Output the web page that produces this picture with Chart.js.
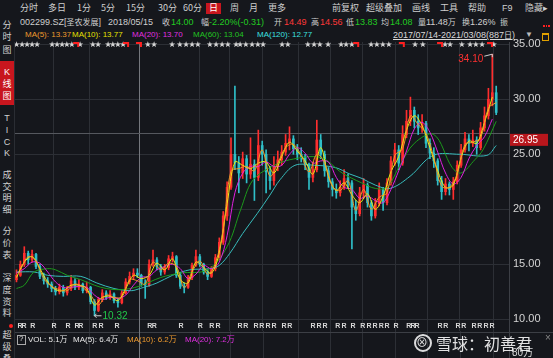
<!DOCTYPE html>
<html><head><meta charset="utf-8">
<script src="https://cdn.jsdelivr.net/npm/chart.js@4.4.1/dist/chart.umd.min.js"></script>
<style>
html,body{margin:0;padding:0;}
body{background:#15171c;width:553px;height:358px;overflow:hidden;position:relative;font-family:"Liberation Sans","Noto Sans CJK SC",sans-serif;color:#cfcfcf;}
.t{position:absolute;white-space:nowrap;font-size:9px;line-height:12px;}
.s{font-size:8px;}
.c{font-family:"Noto Sans CJK SC",sans-serif;}
.k{font-family:"Noto Sans CJK SC",sans-serif;font-size:8px;}
.side{position:absolute;left:0;width:14px;text-align:center;font-size:9px;line-height:12px;font-family:"Noto Sans CJK SC",sans-serif;color:#d0d0d0;}
#wrap{position:absolute;left:15px;top:30px;width:538px;height:328px;}
.g{color:#22cc22}.r{color:#ff3838}
</style></head><body>
<!-- toolbar -->
<div class="t c" style="left:20px;top:2px">分时</div>
<div class="t c" style="left:48px;top:2px">多日</div>
<div class="t c" style="left:77px;top:2px">1分</div>
<div class="t c" style="left:101px;top:2px">5分</div>
<div class="t c" style="left:126px;top:2px">15分</div>
<div class="t c" style="left:158px;top:2px">30分</div>
<div class="t c" style="left:183px;top:2px">60分</div>
<div style="position:absolute;left:206px;top:3px;width:15px;height:11px;background:#c8161e"></div>
<div class="t c" style="left:209px;top:2px;color:#fff">日</div>
<div class="t c" style="left:230px;top:2px">周</div>
<div class="t c" style="left:249px;top:2px">月</div>
<div class="t c" style="left:268px;top:2px">更多</div>
<div class="t c" style="left:332px;top:2px">前复权</div>
<div class="t c" style="left:366px;top:2px">超级叠加</div>
<div class="t c" style="left:412px;top:2px">画线</div>
<div class="t c" style="left:440px;top:2px">工具</div>
<div class="t c" style="left:468px;top:2px">帮助</div>
<div class="t" style="left:502px;top:2px">F9</div>
<div class="t c" style="left:525px;top:2px">隐藏▸</div>
<!-- row 2 -->
<div class="t" style="left:20px;top:16px">002299.SZ[<span class="k">圣农发展</span>]</div>
<div class="t" style="left:108px;top:16px">2018/05/15</div>
<div class="t k" style="left:162px;top:16px">收</div>
<div class="t g" style="left:171px;top:16px">14.00</div>
<div class="t k" style="left:201px;top:16px">幅</div>
<div class="t g" style="left:209px;top:16px">-2.20%(-0.31)</div>
<div class="t k" style="left:274px;top:16px">开</div>
<div class="t r" style="left:284px;top:16px">14.49</div>
<div class="t k" style="left:311px;top:16px">高</div>
<div class="t r" style="left:320px;top:16px">14.56</div>
<div class="t k" style="left:346px;top:16px">低</div>
<div class="t g" style="left:355px;top:16px">13.83</div>
<div class="t k" style="left:381px;top:16px">均</div>
<div class="t g" style="left:390px;top:16px">14.08</div>
<div class="t" style="left:418px;top:16px"><span class="k">量</span>11.48<span class="k">万</span></div>
<div class="t" style="left:462px;top:16px"><span class="k">换</span>1.26%</div>
<div class="t k" style="left:500px;top:16px">振</div>
<div style="position:absolute;left:543px;top:25px;width:1.5px;height:1.5px;background:#ff2020"></div>
<div style="position:absolute;left:545.5px;top:25px;width:1.5px;height:1.5px;background:#ff2020"></div>
<div style="position:absolute;left:548px;top:25px;width:1.5px;height:1.5px;background:#ff2020"></div>
<!-- row 3 -->
<div class="t s" style="left:25px;top:29px;color:#ee9a2e">MA(5): 13.37</div>
<div class="t s" style="left:72px;top:29px;color:#e6e000">MA(10): 13.77</div>
<div class="t s" style="left:132px;top:29px;color:#e030e0">MA(20): 13.70</div>
<div class="t s" style="left:193px;top:29px;color:#22c422">MA(60): 13.04</div>
<div class="t s" style="left:257px;top:29px;color:#3ce0e0">MA(120): 12.77</div>
<div class="t" style="left:393px;top:29px;text-decoration:underline;color:#d8d8d8">2017/07/14-2021/03/08(887<span class="k">日</span>)</div>
<div class="t" style="left:525px;top:29px;color:#bbb;font-size:8px">▼</div>
<div style="position:absolute;left:542px;top:33px;width:5px;height:5px;border:1px solid #e0a000;border-top-width:2px"></div>
<!-- sidebar -->
<div class="side" style="top:19px">分</div>
<div class="side" style="top:31px">时</div>
<div class="side" style="top:44px">图</div>
<div style="position:absolute;left:0;top:61px;width:14px;height:44px;background:#c8161e"></div>
<div class="side" style="top:66px;color:#fff;font-family:'Liberation Sans'">K</div>
<div class="side" style="top:78px;color:#fff">线</div>
<div class="side" style="top:90px;color:#fff">图</div>
<div class="side" style="top:112px;font-family:'Liberation Sans'">T</div>
<div class="side" style="top:124px;font-family:'Liberation Sans'">I</div>
<div class="side" style="top:136px;font-family:'Liberation Sans'">C</div>
<div class="side" style="top:147px;font-family:'Liberation Sans'">K</div>
<div class="side" style="top:169px">成</div>
<div class="side" style="top:181px">交</div>
<div class="side" style="top:192px">明</div>
<div class="side" style="top:204px">细</div>
<div class="side" style="top:225px">分</div>
<div class="side" style="top:237px">价</div>
<div class="side" style="top:249px">表</div>
<div class="side" style="top:272px">深</div>
<div class="side" style="top:284px">度</div>
<div class="side" style="top:296px">资</div>
<div class="side" style="top:307px">料</div>
<div style="position:absolute;left:9px;top:324px;width:4px;height:4px;border-radius:2px;background:#ff2020"></div>
<div class="side" style="top:329px">超</div>
<div class="side" style="top:341px">级</div>
<div class="side" style="top:353px">叠</div>
<div style="position:absolute;left:14px;top:42px;width:1px;height:316px;background:#2a2d33"></div>
<div id="wrap"><canvas id="cv"></canvas></div>
<!-- volume header -->
<div style="position:absolute;left:17px;top:335px;width:7px;height:8px;border:1px solid #aaa"></div>
<div class="t s" style="left:19px;top:333px;color:#ddd">?</div>
<div class="t s" style="left:28px;top:333px;color:#e8e8e8">VOL: 5.1<span class="k">万</span></div>
<div class="t s" style="left:73px;top:333px;color:#e8e8e8">MA(5): 6.4<span class="k">万</span></div>
<div class="t s" style="left:127px;top:333px;color:#ee9a2e">MA(10): 6.2<span class="k">万</span></div>
<div class="t s" style="left:185px;top:333px;color:#e030e0">MA(20): 7.2<span class="k">万</span></div>
<div class="t" style="left:545px;top:332px;color:#888;font-size:10px">×</div>
<div class="t" style="left:512px;top:346px;color:#d8d8d8;font-size:10px">80<span class="c">万</span></div>
<!-- watermark -->
<div style="position:absolute;left:414px;top:334px;width:14px;height:14px;border:2px solid rgba(255,255,255,0.85);border-radius:50%"></div>
<div class="t c" style="left:416px;top:333px;font-size:12px;line-height:18px;color:rgba(255,255,255,0.85)">⊗</div>
<div class="t c" style="left:436px;top:332px;font-size:16px;line-height:22px;color:rgba(255,255,255,0.88)">雪球：初善君</div>
<script>
// ---- data (one entry per sampled trading period, 2017/07 - 2021/03) ----
const opens = [13.6,14.0,15.0,16.0,15.4,15.9,14.8,13.9,13.5,13.2,
 12.8,12.5,12.9,12.4,12.8,13.5,12.9,13.2,12.6,12.9,
 11.6,10.8,11.8,12.4,12.0,12.3,11.7,11.5,12.4,13.4,
 13.9,14.2,14.0,13.3,13.1,15.0,15.4,14.8,14.3,14.7,
 15.5,15.7,14.0,13.0,12.9,13.8,14.9,15.7,15.0,14.3,
 13.9,14.6,15.6,17.0,19.4,22.0,25.0,24.2,23.3,24.6,
 23.2,24.1,22.9,25.8,25.0,23.4,22.6,24.0,24.5,25.2,
 26.0,26.4,25.5,25.0,24.8,24.0,22.9,23.6,26.3,25.0,
 23.5,22.5,21.8,21.5,22.0,22.8,22.4,20.2,19.6,21.5,
 22.2,20.6,19.4,20.5,21.8,20.6,22.4,24.4,25.4,24.2,
 26.8,28.0,29.0,28.0,27.4,27.8,26.0,25.1,24.4,22.6,
 21.6,22.3,21.8,22.5,24.0,25.4,26.4,26.0,26.3,25.6,
 27.4,28.5,30.0,30.6];
const highs = [14.5,15.3,16.6,16.2,16.3,16.0,15.0,14.2,13.8,13.4,
 13.0,13.2,13.1,13.0,14.0,13.7,13.6,13.3,13.4,13.0,
 11.8,12.0,12.7,12.6,12.6,12.4,11.9,12.6,13.7,14.3,
 14.6,14.6,14.1,13.6,15.4,16.3,15.6,15.0,15.0,15.8,
 16.1,15.8,14.2,13.3,14.0,15.1,16.3,15.9,15.1,14.5,
 14.8,15.9,17.4,19.8,22.5,26.5,31.2,24.8,25.2,24.9,
 26.5,24.5,27.2,26.2,25.4,23.9,24.8,25.3,25.8,26.8,
 27.5,26.7,25.9,25.6,25.0,24.2,24.3,28.1,26.8,25.3,
 23.8,22.8,22.3,22.6,23.6,23.2,22.6,20.8,22.0,22.8,
 22.4,20.8,21.0,22.4,22.0,22.8,24.8,26.0,25.8,27.6,
 29.0,30.2,29.3,28.6,28.6,28.0,26.4,25.6,24.6,23.0,
 22.8,22.5,22.9,24.4,25.9,27.0,26.8,27.2,26.6,27.9,
 29.3,31.0,34.1,31.2];
const lows = [13.4,13.9,14.8,15.0,15.2,14.6,13.7,13.2,12.9,12.5,
 12.2,12.3,12.1,12.2,12.6,12.7,12.7,12.4,12.4,11.4,
 10.32,10.7,11.6,11.8,11.8,11.5,11.1,11.4,12.3,13.2,
 13.6,13.8,13.0,11.9,13.0,14.8,14.5,14.0,14.1,14.5,
 15.2,13.8,12.8,12.4,12.8,13.6,14.8,14.8,14.1,13.6,
 13.8,14.4,15.4,16.8,19.0,21.8,23.6,21.5,22.8,22.4,
 22.8,20.8,22.6,24.0,21.5,21.8,22.2,23.5,24.0,24.9,
 25.4,25.0,24.5,24.3,23.6,21.8,22.5,23.4,24.6,23.0,
 22.0,21.2,21.0,21.2,21.8,21.9,16.4,19.0,19.4,21.0,
 20.2,19.0,19.2,20.3,19.9,20.4,22.2,24.0,23.6,24.0,
 26.5,27.6,27.4,26.8,27.0,25.6,24.6,23.8,22.2,20.9,
 21.3,21.3,20.9,22.3,23.8,25.2,25.3,25.7,25.0,25.4,
 27.1,28.2,29.4,28.6];
const closes = [14.0,15.0,16.0,15.4,15.9,14.8,13.9,13.5,13.2,12.8,
 12.5,12.9,12.4,12.8,13.5,12.9,13.2,12.6,12.9,11.6,
 10.8,11.8,12.4,12.0,12.3,11.7,11.5,12.4,13.4,13.9,
 14.2,14.0,13.3,13.1,15.0,15.4,14.8,14.3,14.7,15.5,
 15.7,14.0,13.0,12.9,13.8,14.9,15.7,15.0,14.3,13.9,
 14.6,15.6,17.0,19.4,22.0,25.0,24.2,23.3,24.6,23.2,
 24.1,22.9,25.8,25.0,23.4,22.6,24.0,24.5,25.2,26.0,
 26.4,25.5,25.0,24.8,24.0,22.9,23.6,26.3,25.0,23.5,
 22.5,21.8,21.5,22.0,22.8,22.4,20.2,19.6,21.5,22.2,
 20.6,19.4,20.5,21.8,20.6,22.4,24.4,25.4,24.2,26.8,
 28.0,29.0,28.0,27.4,27.8,26.0,25.1,24.4,22.6,21.6,
 22.3,21.8,22.5,24.0,25.4,26.4,26.0,26.3,25.6,27.4,
 28.5,30.0,30.6,28.8];
// moving averages (MA5 at odd periods, MA10/MA20 at even periods)
const ma5Odd = [14.5,15.7,15.3,13.7,13.0,12.7,12.6,13.2,12.9,12.2,
 11.3,12.2,12.0,12.0,13.6,13.5,13.2,15.2,14.5,15.1,
 14.8,12.9,14.3,15.3,14.1,15.1,18.2,23.5,23.7,23.9,
 23.5,25.4,23.0,24.2,25.6,25.9,24.9,23.4,25.0,24.2,
 22.1,21.7,22.6,19.9,21.8,20.0,21.1,21.5,24.9,25.5,
 28.5,27.7,26.9,24.7,22.1,22.0,23.2,25.9,26.1,26.5,
 29.2,29.7];
const ma10Even = [13.8,15.2,15.7,14.6,13.4,12.7,12.6,13.1,13.1,12.8,
 11.3,12.0,12.1,11.7,12.8,14.0,13.7,14.0,15.1,14.5,
 15.5,13.6,13.3,15.2,14.7,14.2,16.1,20.5,24.3,24.0,
 23.7,24.2,24.3,23.3,24.8,26.1,25.3,24.4,23.2,25.6,
 23.0,21.7,22.4,21.3,20.6,21.4,20.0,21.2,23.4,24.8,
 27.2,28.5,27.6,25.6,23.5,22.0,22.2,24.7,26.2,26.0,
 27.9,30.2];
const ma20Even = [14.2,14.6,15.2,15.1,14.3,13.4,12.9,12.9,13.0,12.9,
 12.2,11.8,12.0,11.9,12.2,13.1,13.8,13.9,14.5,14.8,
 15.0,14.6,13.7,14.1,14.9,14.6,15.2,17.6,21.5,23.3,
 23.9,23.9,24.3,23.9,24.0,25.0,25.6,25.1,24.2,24.4,
 24.3,22.9,22.0,21.8,21.0,21.2,20.8,20.6,21.8,23.5,
 25.3,27.3,27.9,27.0,25.2,23.3,22.3,22.9,24.6,25.8,
 26.6,28.2];
const ma60Pts = [[0,12.8],[2,13.1],[4.5,14.3],[8,14.6],[10,14.5],[13,14.0],[16.5,13.6],[20,13.1],[23,12.8],[27,12.7],
 [31.4,13.0],[37,13.8],[42,14.2],[49,14.5],[54,16.6],[57.5,20.0],[60.5,22.6],[65,23.8],[70,24.5],[78,24.7],
 [83.5,23.3],[88.5,22.4],[92,21.9],[95,22.0],[98.3,24.0],[102,26.0],[107,26.8],[111.7,23.8],[114,23.3],[117.5,24.5],
 [119.6,25.4],[123,28.0]];
const ma120Pts = [[0,14.3],[4.5,14.3],[8,14.0],[12,13.9],[16.5,13.9],[20.6,13.3],[25,12.8],[29.4,12.6],[31.4,12.77],[36,13.3],
 [40,14.0],[44.5,14.5],[49.6,14.6],[52,14.9],[54.7,16.0],[58,17.8],[61.7,19.6],[65,21.3],[67.6,22.7],[71.4,24.0],
 [76.5,24.0],[81.7,23.8],[85.5,23.2],[88.6,22.8],[92,22.2],[95.8,21.9],[100.9,23.0],[106.8,24.9],[113.7,25.0],[120.6,24.9],
 [123,25.8]];
const priceTicks = [10, 15, 20, 25, 30, 35];
const dateGrid = [9.6, 18.6, 46.8, 54.7, 63.2, 72.2, 80.4, 88.6, 97.1, 105.3, 113.7, 122.2];
const lastPrice = 26.95;
const cursorPeriod = 31.4;
const starMarks = [0,1.4,2.7,4,5.3,9.1,10.4,11.7,12.9,14.2,16.3,19.6,20.9,23.5,24.7,26,27.3,33.7,35.3,39.9,41.9,43.5,45,46.5,49.6,51.2,52.7,54.2,56.3,57.3,58.8,60.4,61.9,63.2,68.1,69.6,74.7,76.3,77.8,79.9,83.2,84.5,86,90.9,92.4,93.9,95.5,102.2,104.2,109.9,111.2,114.2,116.3,117.8,119.4,122.4];
const flagMarks = [15.3, 28.1, 31.4, 87.1, 98.8, 108.6, 121.4];
const rMarks = [0.9,1.9,4.2,9.6,13.2,15.5,16.5,20.1,21.7,25.8,34.2,35.3,42.2,47.1,50.1,51.7,57.3,58.8,61.4,62.9,64.5,66,68.6,70.1,76,77.6,79.1,82.4,84,86.3,88.8,90.4,91.9,93.5,95,97.3,100.6,101.7,102.7,108.6,110.1,113.2,114.7,117.3,118.8,120.4,121.9];

// ---- build datasets ----
const UP = '#ff2e2e', DOWN = '#2fbfc8';
const candleColors = closes.map((c, i) => c >= opens[i] ? UP : DOWN);
const wickData = closes.map((c, i) => ({x: i, y: [lows[i], highs[i]]}));
const bodyData = closes.map((c, i) => ({x: i, y: [Math.min(opens[i], c), Math.max(opens[i], c)]}));
const ma5Data = ma5Odd.map((v, k) => ({x: 2 * k + 1, y: v}));
const ma10Data = ma10Even.map((v, k) => ({x: 2 * k, y: v}));
const ma20Data = ma20Even.map((v, k) => ({x: 2 * k, y: v}));
const ma60Data = ma60Pts.map(p => ({x: p[0], y: p[1]}));
const ma120Data = ma120Pts.map(p => ({x: p[0], y: p[1]}));
const lineDs = (data, color, order) => ({type: 'line', data, borderColor: color, borderWidth: 1, pointRadius: 0, tension: 0.35, fill: false, order});

const overlay = {
  id: 'overlay',
  beforeDatasetsDraw(chart) {
    const {ctx, chartArea: a, scales: {x, y}} = chart;
    ctx.save();
    const cx = Math.round(x.getPixelForValue(cursorPeriod)) + 0.5;
    ctx.strokeStyle = '#74777d'; ctx.lineWidth = 1;
    ctx.beginPath(); ctx.moveTo(cx, a.top); ctx.lineTo(cx, a.bottom); ctx.stroke();
    const ly = Math.round(y.getPixelForValue(lastPrice)) + 0.5;
    ctx.strokeStyle = '#55585e';
    ctx.beginPath(); ctx.moveTo(a.left, ly); ctx.lineTo(a.right, ly); ctx.stroke();
    ctx.restore();
  },
  afterDraw(chart) {
    const {ctx, chartArea: a, scales: {x, y}} = chart;
    ctx.save();
    ctx.strokeStyle = '#2c2f35'; ctx.lineWidth = 1;
    dateGrid.forEach(v => {
      const px = Math.round(x.getPixelForValue(v)) + 0.5;
      ctx.beginPath(); ctx.moveTo(px, a.bottom); ctx.lineTo(px, chart.height); ctx.stroke();
    });
    ctx.strokeStyle = '#3c3f45';
    ctx.beginPath(); ctx.moveTo(0, a.bottom + 1.5); ctx.lineTo(chart.width, a.bottom + 1.5); ctx.stroke();
    ctx.beginPath(); ctx.moveTo(a.right + 0.5, a.bottom); ctx.lineTo(a.right + 0.5, chart.height); ctx.stroke();
    const cx = Math.round(x.getPixelForValue(cursorPeriod)) + 0.5;
    ctx.strokeStyle = '#74777d';
    ctx.beginPath(); ctx.moveTo(cx, a.bottom); ctx.lineTo(cx, chart.height); ctx.stroke();
    ctx.font = '8px "DejaVu Sans"'; ctx.textAlign = 'center'; ctx.textBaseline = 'middle';
    ctx.fillStyle = '#d6d6d6';
    starMarks.forEach(v => ctx.fillText('★', x.getPixelForValue(v), a.top + 3));
    ctx.fillStyle = '#ff2020';
    flagMarks.forEach(v => {
      const px = x.getPixelForValue(v);
      ctx.fillRect(px - 3, a.top, 5, 2); ctx.fillRect(px + 1, a.top, 2, 5);
    });
    ctx.font = 'bold 7px "Liberation Sans"'; ctx.fillStyle = '#d8d8d8';
    rMarks.forEach(v => ctx.fillText('R', x.getPixelForValue(v), a.bottom - 5));
    let hi = 0, lo = 0;
    highs.forEach((v, i) => { if (v > highs[hi]) hi = i; });
    lows.forEach((v, i) => { if (v < lows[lo]) lo = i; });
    const hx = x.getPixelForValue(hi), hy = y.getPixelForValue(highs[hi]);
    ctx.strokeStyle = '#cfcfcf'; ctx.lineWidth = 1;
    ctx.beginPath(); ctx.moveTo(hx - 8, hy + 2); ctx.lineTo(hx, hy); ctx.lineTo(hx, hy + 3); ctx.stroke();
    ctx.font = '10px "Liberation Sans"'; ctx.fillStyle = '#ff3030'; ctx.textAlign = 'right';
    ctx.fillText(highs[hi].toFixed(2), hx - 9, hy + 5);
    const lx = x.getPixelForValue(lo), lyy = y.getPixelForValue(lows[lo]);
    ctx.beginPath(); ctx.moveTo(lx, lyy); ctx.lineTo(lx + 7, lyy); ctx.stroke();
    ctx.beginPath(); ctx.moveTo(lx + 2, lyy - 2); ctx.lineTo(lx, lyy); ctx.lineTo(lx + 2, lyy + 2); ctx.stroke();
    ctx.fillStyle = '#22c84a'; ctx.textAlign = 'left';
    ctx.fillText(lows[lo].toFixed(2), lx + 8, lyy);
    const py = y.getPixelForValue(lastPrice);
    ctx.fillStyle = '#b8161c'; ctx.fillRect(a.right + 1, py + 1, 38, 12);
    ctx.fillStyle = '#ffffff'; ctx.textAlign = 'left';
    ctx.fillText(lastPrice.toFixed(2), a.right + 4, py + 7.5);
    ctx.restore();
  }
};

new Chart(document.getElementById('cv'), {
  type: 'bar',
  data: {
    datasets: [
      lineDs(ma5Data, '#f09a28', 1),
      lineDs(ma10Data, '#eeee10', 1),
      lineDs(ma20Data, '#e020e0', 1),
      lineDs(ma60Data, '#1c9a1c', 1),
      lineDs(ma120Data, '#38bcbc', 1),
      {type: 'bar', data: bodyData, backgroundColor: candleColors, barThickness: 2, grouped: false, minBarLength: 1, order: 2},
      {type: 'bar', data: wickData, backgroundColor: candleColors, barThickness: 1, grouped: false, order: 3}
    ]
  },
  options: {
    responsive: true, maintainAspectRatio: false, animation: false,
    layout: {padding: {top: 12, bottom: 27, left: 0, right: 0}},
    plugins: {legend: {display: false}, tooltip: {enabled: false}},
    scales: {
      x: {
        type: 'linear', min: -0.385, max: 126.28, offset: false,
        afterBuildTicks: s => { s.ticks = dateGrid.map(v => ({value: v})); },
        afterFit: s => { s.height = 0; },
        grid: {color: '#2c2f35', drawTicks: false, offset: false},
        border: {display: false},
        ticks: {display: false}
      },
      y: {
        position: 'right', min: 8.936, max: 35.209,
        afterBuildTicks: s => { s.ticks = priceTicks.map(v => ({value: v})); },
        afterFit: s => { s.width = 44; },
        grid: {color: '#2c2f35', drawTicks: false},
        border: {color: '#3c3f45'},
        ticks: {color: '#d4d4d4', padding: 4, autoSkip: false, font: {size: 11, family: 'Liberation Sans'}, callback: v => Number(v).toFixed(2)}
      }
    }
  },
  plugins: [overlay]
});
</script>
</body></html>
